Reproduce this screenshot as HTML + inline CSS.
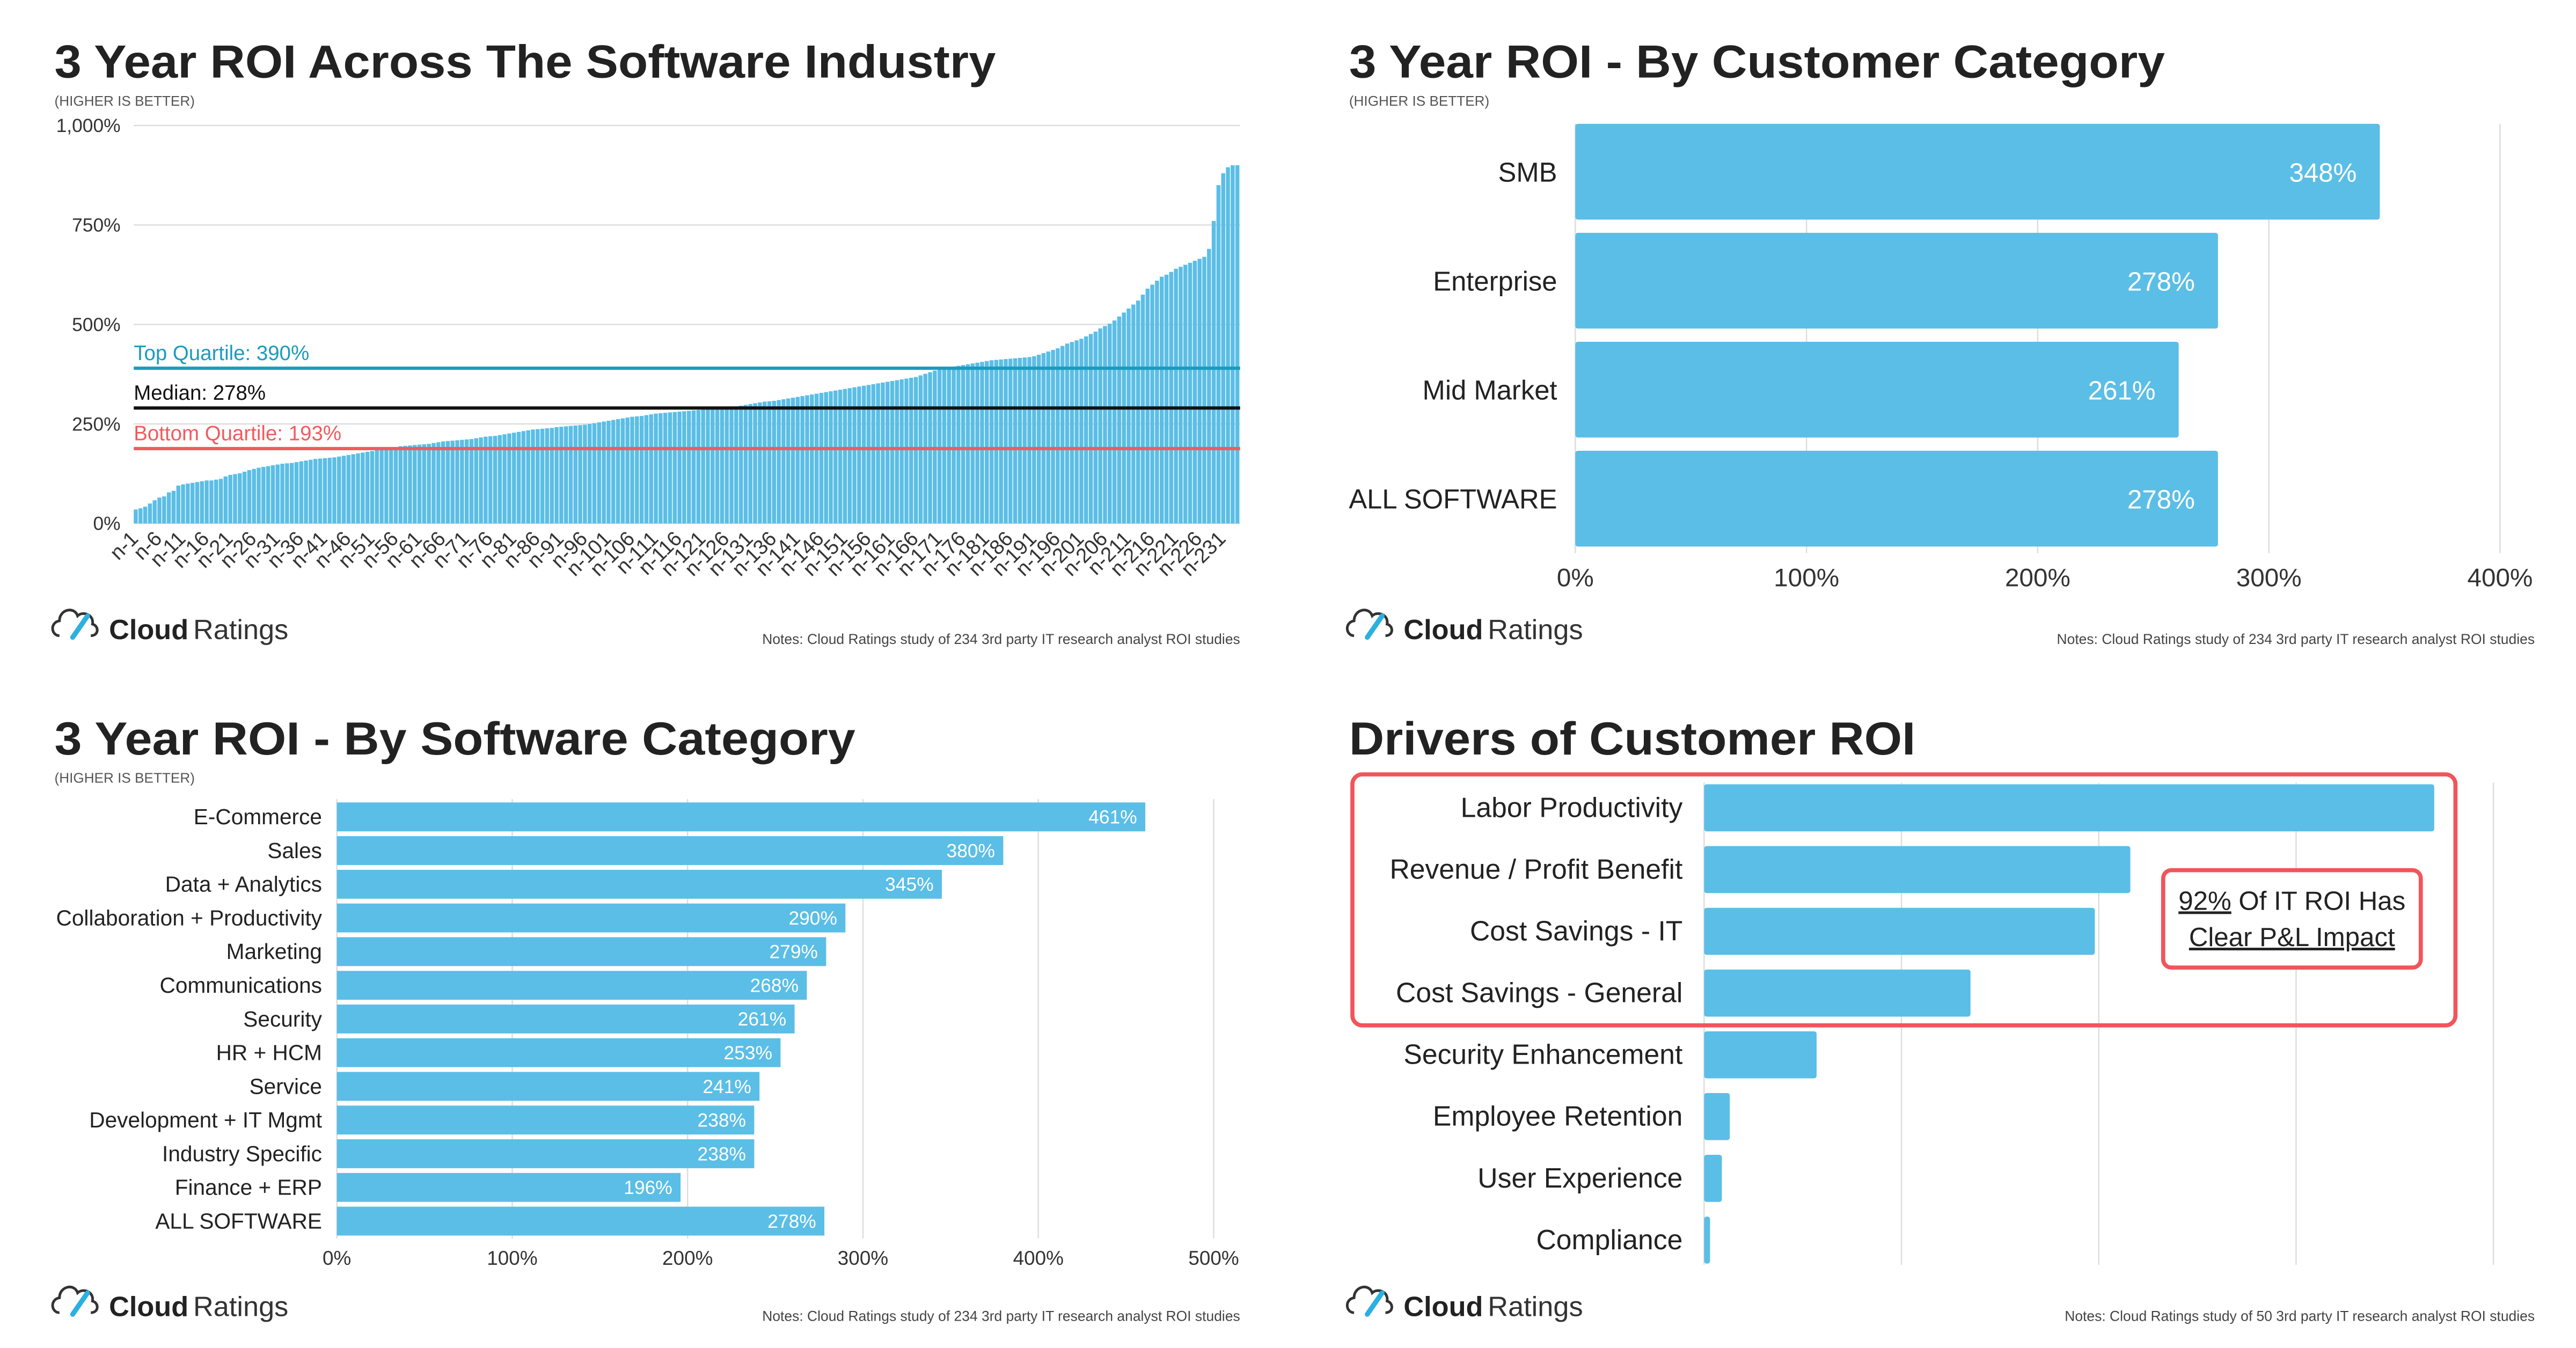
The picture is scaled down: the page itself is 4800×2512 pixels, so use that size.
<!DOCTYPE html>
<html><head><meta charset="utf-8">
<style>
html,body{margin:0;padding:0;background:#fff;}
svg{display:block;font-family:"Liberation Sans",sans-serif;}
</style></head>
<body>
<svg id="root" width="4800" height="2512" viewBox="0 0 1560 816.4" xmlns="http://www.w3.org/2000/svg">
<rect x="0" y="0" width="1560" height="817" fill="#fff"/>
<g id="c1"></g>
<g id="c2"></g>
<g id="c3"></g>
<g id="c4"></g>
</svg>
<script>
// ---- Chart 1 data ----
const industryValues = [35,38,42,50,58,65,68,78,82,95,
98,100,102,104,106,108,108,110,112,118,
122,124,126,130,134,137,140,142,144,146,
148,150,151,152,154,156,158,160,162,163,
164,165,166,168,170,172,174,176,178,180,
182,184,186,188,190,192,194,195,196,197,
198,199,200,202,204,206,207,208,209,210,
211,212,214,216,218,219,220,222,224,226,
228,230,232,234,236,237,238,239,240,242,
243,244,245,246,247,248,250,252,254,256,
258,260,262,264,266,268,269,270,272,274,
276,277,278,279,280,281,282,283,284,285,
286,287,288,289,290,291,292,294,296,298,
300,302,304,306,307,308,310,312,314,316,
318,320,322,324,326,328,330,332,334,336,
338,340,342,344,346,348,350,352,354,356,
358,360,362,364,366,368,372,376,380,384,
388,390,392,394,396,398,400,402,404,406,
408,410,411,412,413,414,415,416,417,418,
420,424,428,432,436,440,446,452,456,460,
464,470,476,482,490,496,502,510,520,530,
540,550,560,575,590,600,610,620,625,632,
640,645,650,655,660,665,670,690,760,850,
880,895,900,900];
const industryTicks = [0,250,500,750,1000];
const industryTickLabels = ["0%","250%","500%","750%","1,000%"];
const refNames = ["Top Quartile: 390%","Median: 278%","Bottom Quartile: 193%"];
const refValues = [390,290,188];
const refColors = ["#1b9bbd","#111","#f25a5e"];
// ---- Chart 2 data ----
const custCats = ["SMB","Enterprise","Mid Market","ALL SOFTWARE"];
const custValues = [348,278,261,278];
const custTicks = [0,100,200,300,400];
// ---- Chart 3 data ----
const swCats = ["E-Commerce","Sales","Data + Analytics","Collaboration + Productivity","Marketing","Communications","Security","HR + HCM","Service","Development + IT Mgmt","Industry Specific","Finance + ERP","ALL SOFTWARE"];
const swValues = [461,380,345,290,279,268,261,253,241,238,238,196,278];
const swTicks = [0,100,200,300,400,500];
// ---- Chart 4 data ----
const drvCats = ["Labor Productivity","Revenue / Profit Benefit","Cost Savings - IT","Cost Savings - General","Security Enhancement","Employee Retention","User Experience","Compliance"];
const drvValues = [37,21.6,19.8,13.5,5.7,1.3,0.9,0.3];
const drvTicks = [0,10,20,30,40];

const NS="http://www.w3.org/2000/svg";
const BLUE="#5bbee6";
function mk(parent,tag,attrs,text){const e=document.createElementNS(NS,tag);for(const k in attrs)e.setAttribute(k,attrs[k]);if(text!==undefined)e.textContent=text;parent.appendChild(e);return e;}

function header(g,x,y,title,tw,sub){
  const t=mk(g,'text',{x:x,y:y,'font-size':28,'font-weight':'bold',fill:'#222',textLength:tw,lengthAdjust:'spacingAndGlyphs'},title);
  
  
  if(sub){const s=mk(g,'text',{x:x,y:y+17,'font-size':8.5,fill:'#555'},'(HIGHER IS BETTER)');
  
  }
}
function footer(g,x,y,note,nx){
  const lg=mk(g,'g',{});
  
  
  mk(lg,'path',{d:`M${x+3} ${y+9} c-5 0 -6 -8 0 -9 c0 -7 9 -9 11 -3 c3 -3 10 -1 9 5 c4 1 4 7 -1 7`,fill:'none',stroke:'#333','stroke-width':1.6});
  mk(lg,'path',{d:`M${x+11} ${y+10} l9 -13`,stroke:'#2bb0e0','stroke-width':3,'stroke-linecap':'round'});
  mk(lg,'text',{x:x+33,y:y+11,'font-size':17,'font-weight':'bold',fill:'#222'},'Cloud');
  mk(lg,'text',{x:x+84,y:y+11,'font-size':17,fill:'#333'},'Ratings');
  const n=mk(g,'text',{x:nx,y:y+14,'font-size':8.6,fill:'#444','text-anchor':'end'},note);
  
  
}

// ===== Chart 1 =====
(function(){
  const g=document.getElementById('c1');
  header(g,33,47,'3 Year ROI Across The Software Industry',570,true);
  const x0=81,x1=751,y0=317,yTop=76;
  const yS=v=>y0-(v/1000)*(y0-yTop);
  industryTicks.forEach((t,i)=>{
    const l=mk(g,'line',{x1:x0,x2:x1,y1:yS(t),y2:yS(t),stroke:'#ddd','stroke-width':0.8});
    
    
    const tl=mk(g,'text',{x:73,y:yS(t)+4,'font-size':11.5,fill:'#333','text-anchor':'end'},industryTickLabels[i]);
    
    
  });
  const n=industryValues.length,bw=(x1-x0)/n;
  industryValues.forEach((v,i)=>{
    const r=mk(g,'rect',{x:x0+i*bw,y:yS(v),width:bw*0.85,height:y0-yS(v),fill:BLUE});
    
    
    if(i%5===0){
      const cx=x0+(i+0.5)*bw+2, cy=327;
      const t=mk(g,'text',{x:cx,y:cy,'font-size':12.5,fill:'#333','text-anchor':'end',transform:`rotate(-45 ${cx} ${cy})`},'n-'+(i+1));
      
      
    }
  });
  refValues.forEach((v,i)=>{
    const l=mk(g,'line',{x1:x0,x2:x1,y1:yS(v),y2:yS(v),stroke:refColors[i],'stroke-width':2});
    
    
    const t=mk(g,'text',{x:x0,y:yS(v)-5,'font-size':12.5,fill:refColors[i]},refNames[i]);
    
    
  });
  footer(g,33,376,'Notes: Cloud Ratings study of 234 3rd party IT research analyst ROI studies',751);
})();

// ===== Chart 2 =====
(function(){
  const g=document.getElementById('c2');
  header(g,817,47,'3 Year ROI - By Customer Category',494,true);
  const x0=954,pp=1.4;const xS=v=>x0+v*pp;
  custTicks.forEach(t=>{
    const l=mk(g,'line',{x1:xS(t),x2:xS(t),y1:75,y2:335,stroke:'#ddd','stroke-width':0.8});
    
    
    const tl=mk(g,'text',{x:xS(t),y:355,'font-size':15.5,fill:'#333','text-anchor':'middle'},t+'%');
    
    
  });
  custCats.forEach((c,i)=>{
    const y=75+i*66,h=58;
    const r=mk(g,'rect',{x:x0,y:y,width:xS(custValues[i])-x0,height:h,fill:BLUE,rx:1.5});
    
    
    const v=mk(g,'text',{x:xS(custValues[i])-14,y:y+h/2+6,'font-size':16,fill:'#fff','text-anchor':'end'},custValues[i]+'%');
    
    
    const t=mk(g,'text',{x:943,y:y+h/2+6,'font-size':16.5,fill:'#222','text-anchor':'end'},c);
    
    
  });
  footer(g,817,376,'Notes: Cloud Ratings study of 234 3rd party IT research analyst ROI studies',1535);
})();

// ===== Chart 3 =====
(function(){
  const g=document.getElementById('c3');
  header(g,33,457,'3 Year ROI - By Software Category',485,true);
  const x0=204,pp=1.062;const xS=v=>x0+v*pp;
  swTicks.forEach(t=>{
    const l=mk(g,'line',{x1:xS(t),x2:xS(t),y1:484,y2:750,stroke:'#ddd','stroke-width':0.8});
    
    
    const tl=mk(g,'text',{x:xS(t),y:766,'font-size':12,fill:'#333','text-anchor':'middle'},t+'%');
    
    
  });
  swCats.forEach((c,i)=>{
    const y=486+i*20.4,h=17.5;
    const r=mk(g,'rect',{x:x0,y:y,width:xS(swValues[i])-x0,height:h,fill:BLUE});
    
    
    const v=mk(g,'text',{x:xS(swValues[i])-5,y:y+h/2+4,'font-size':11.5,fill:'#fff','text-anchor':'end'},swValues[i]+'%');
    
    
    const t=mk(g,'text',{x:195,y:y+h/2+4.5,'font-size':13.2,fill:'#222','text-anchor':'end'},c);
    
    
  });
  footer(g,33,786,'Notes: Cloud Ratings study of 234 3rd party IT research analyst ROI studies',751);
})();

// ===== Chart 4 =====
(function(){
  const g=document.getElementById('c4');
  header(g,817,457,'Drivers of Customer ROI',343,false);
  const x0=1032,pp=11.95;const xS=v=>x0+v*pp;
  drvTicks.forEach(t=>{
    const l=mk(g,'line',{x1:xS(t),x2:xS(t),y1:474,y2:766,stroke:'#ddd','stroke-width':0.8});
    
    
  });
  drvCats.forEach((c,i)=>{
    const y=475+i*37.4,h=28.5;
    const r=mk(g,'rect',{x:x0,y:y,width:Math.max(xS(drvValues[i])-x0,2),height:h,fill:BLUE,rx:1.5});
    
    
    const t=mk(g,'text',{x:1019,y:y+h/2+5.5,'font-size':16.8,fill:'#222','text-anchor':'end'},c);
    
    
  });
  const b=mk(g,'rect',{x:819,y:469,width:668,height:152,rx:6,fill:'none',stroke:'#f2545b','stroke-width':2.5});
  
  
  const cb=mk(g,'rect',{x:1310,y:527,width:156,height:59,rx:5,fill:'#fff',stroke:'#f2545b','stroke-width':2.5});
  
  
  const t1=mk(g,'text',{x:1388,y:551,'font-size':16,fill:'#222','text-anchor':'middle'});
  
  
  mk(t1,'tspan',{'text-decoration':'underline'},'92%');
  mk(t1,'tspan',{},' Of IT ROI Has');
  const t2=mk(g,'text',{x:1388,y:573,'font-size':16,fill:'#222','text-anchor':'middle','text-decoration':'underline'},'Clear P&L Impact');
  
  
  footer(g,817,786,'Notes: Cloud Ratings study of 50 3rd party IT research analyst ROI studies',1535);
})();
</script>
</body></html>
